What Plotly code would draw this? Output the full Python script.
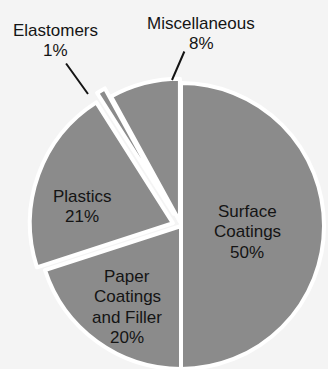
import math
import plotly.graph_objects as go

# Shares of end use, clockwise from 12 o'clock
labels = ["Surface Coatings", "Paper Coatings and Filler", "Plastics", "Elastomers", "Miscellaneous"]
values = [50, 20, 21, 1, 8]
pulls = [0.0, 0.0, 0.06, 0.10, 0.03]

# Text lines drawn for each slice (the value line is appended from `values`)
label_lines = {
    "Surface Coatings": ["Surface", "Coatings"],
    "Paper Coatings and Filler": ["Paper", "Coatings", "and Filler"],
    "Plastics": ["Plastics"],
    "Elastomers": ["Elastomers"],
    "Miscellaneous": ["Miscellaneous"],
}

W, H = 328, 369
CX, CY, R = 181, 226, 143          # pie centre and radius, pixels
SLICE = "#8b8b8b"
BG = "#f4f4f4"
INK = "#141414"
CLEAR = "rgba(0,0,0,0)"
FONT = "Liberation Sans, Arial, Helvetica, sans-serif"
FS = 17
LINE_GAP = 20.5


def px(x, y):
    """Pixel position (from top-left) to paper coordinates."""
    return x / W, 1 - y / H


def domain_for(dx, dy):
    """Square domain of radius R around the (shifted) centre."""
    x0, x1 = CX - R + dx, CX + R + dx
    y0, y1 = CY - R + dy, CY + R + dy
    return dict(x=[x0 / W, min(x1 / W, 1.0)], y=[max(1 - y1 / H, 0.0), 1 - y0 / H])


# Each slice is offset along its bisector by its pull fraction of the radius.
total = sum(values)
offsets = []
cum = 0.0
for v, p in zip(values, pulls):
    mid = math.radians((cum + v / 2) / total * 360)
    offsets.append((p * R * math.sin(mid), -p * R * math.cos(mid)))
    cum += v

fig = go.Figure()
for i, lab in enumerate(labels):
    dx, dy = offsets[i]
    fig.add_trace(
        go.Pie(
            labels=labels,
            values=values,
            sort=False,
            direction="clockwise",
            rotation=0,
            textinfo="none",
            hoverinfo="label+percent",
            marker=dict(
                colors=[SLICE if j == i else CLEAR for j in range(len(values))],
                line=dict(color=["white" if j == i else CLEAR for j in range(len(values))], width=4),
            ),
            domain=domain_for(dx, dy),
            showlegend=False,
            name=lab,
        )
    )

# Label centres (pixels) for the first line of each label
label_pos = {
    "Surface Coatings": (247, 211),
    "Paper Coatings and Filler": (127, 276),
    "Plastics": (82, 196),
    "Elastomers": (55, 30),
    "Miscellaneous": (201, 23.5),
}
leaders = {
    "Elastomers": ((65, 62), (88, 94)),
    "Miscellaneous": ((185, 50), (172, 80)),
}

annotations = []
for lab, val in zip(labels, values):
    lines = label_lines[lab] + [f"{val}%"]
    x0, y0 = label_pos[lab]
    for k, line in enumerate(lines):
        x, y = px(x0, y0 + k * LINE_GAP)
        annotations.append(
            dict(
                x=x, y=y, xref="paper", yref="paper",
                text=line, showarrow=False,
                font=dict(family=FONT, size=FS, color=INK),
                xanchor="center", yanchor="middle",
            )
        )

for lab, (start, end) in leaders.items():
    ex, ey = px(*end)
    annotations.append(
        dict(
            x=ex, y=ey, xref="paper", yref="paper",
            ax=start[0] - end[0], ay=start[1] - end[1],
            axref="pixel", ayref="pixel",
            text="", showarrow=True, arrowhead=0,
            arrowwidth=2, arrowcolor=INK,
        )
    )

fig.update_layout(
    width=W,
    height=H,
    margin=dict(l=0, r=0, t=0, b=0),
    paper_bgcolor=BG,
    plot_bgcolor=BG,
    annotations=annotations,
)

fig.write_html("out.html")
